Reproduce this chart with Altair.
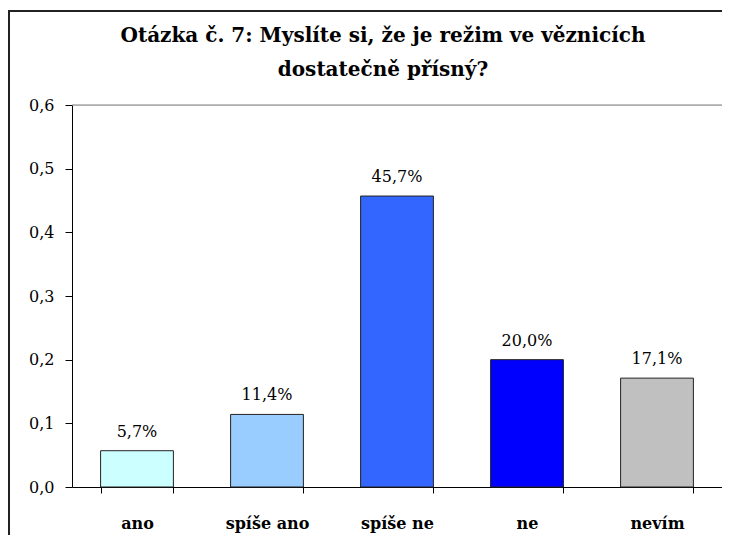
import altair as alt
import pandas as pd

categories = ["ano", "spíše ano", "spíše ne", "ne", "nevím"]
values = [0.057, 0.114, 0.457, 0.200, 0.171]
colors = ["#CCFFFF", "#99CCFF", "#3366FF", "#0000FF", "#C0C0C0"]
y_ticks = [0.0, 0.1, 0.2, 0.3, 0.4, 0.5, 0.6]
title_lines = ["Otázka č. 7: Myslíte si, že je režim ve věznicích", "dostatečně přísný?"]

FONT = "'DejaVu Serif', serif"

df = pd.DataFrame({
    "cat": categories,
    "val": values,
    "label": [f"{v * 100:.1f}%".replace(".", ",") for v in values],
})

x_enc = alt.X(
    "cat:N",
    sort=categories,
    scale=alt.Scale(paddingInner=0.44, paddingOuter=0.22),
    axis=alt.Axis(
        title=None, labelAngle=0, labelFont=FONT, labelFontSize=16,
        labelFontWeight="bold", labelColor="black", labelPadding=22,
        tickBand="extent", tickSize=6, tickColor="black", domainColor="black",
    ),
)
y_enc = alt.Y(
    "val:Q",
    scale=alt.Scale(domain=[0, 0.6], nice=False),
    axis=alt.Axis(
        title=None, values=y_ticks, grid=False,
        labelExpr="replace(format(datum.value, '.1f'), '.', ',')",
        labelFont=FONT, labelFontSize=16, labelColor="black", labelPadding=11,
        tickSize=7, tickColor="black", domainColor="black",
    ),
)

bars = alt.Chart(df).mark_bar(stroke="#222222", strokeWidth=1).encode(
    x=x_enc,
    y=y_enc,
    color=alt.Color("cat:N", sort=categories,
                    scale=alt.Scale(domain=categories, range=colors), legend=None),
)

text = alt.Chart(df).mark_text(font=FONT, fontSize=16, dy=-14, baseline="alphabetic",
                               color="black").encode(
    x=alt.X("cat:N", sort=categories),
    y="val:Q",
    text="label:N",
)

frame_df = pd.DataFrame({"k": [0]})
top_line = alt.Chart(frame_df).mark_rule(color="#808080", strokeWidth=1).encode(
    y=alt.datum(0.6)
)
frame_left = alt.Chart(frame_df).mark_rule(color="#222222", strokeWidth=2).encode(
    x=alt.value(-63), y=alt.value(-94), y2=alt.value(440)
)
frame_top = alt.Chart(frame_df).mark_rule(color="#222222", strokeWidth=2).encode(
    x=alt.value(-64), x2=alt.value(650), y=alt.value(-94)
)

chart = alt.layer(bars, text, top_line, frame_left, frame_top).properties(
    width=650, height=382,
    autosize=alt.AutoSizeParams(type="none"),
    padding={"left": 64, "top": 97, "right": 0, "bottom": 48},
    title=alt.TitleParams(
        text=title_lines, font=FONT, fontSize=20, fontWeight="bold",
        lineHeight=34, color="black", anchor="middle", dx=-14, offset=-70,
    ),
).configure_view(stroke=None).configure(background="white")

chart.save("out.html", embed_options={"renderer": "svg", "actions": False})
